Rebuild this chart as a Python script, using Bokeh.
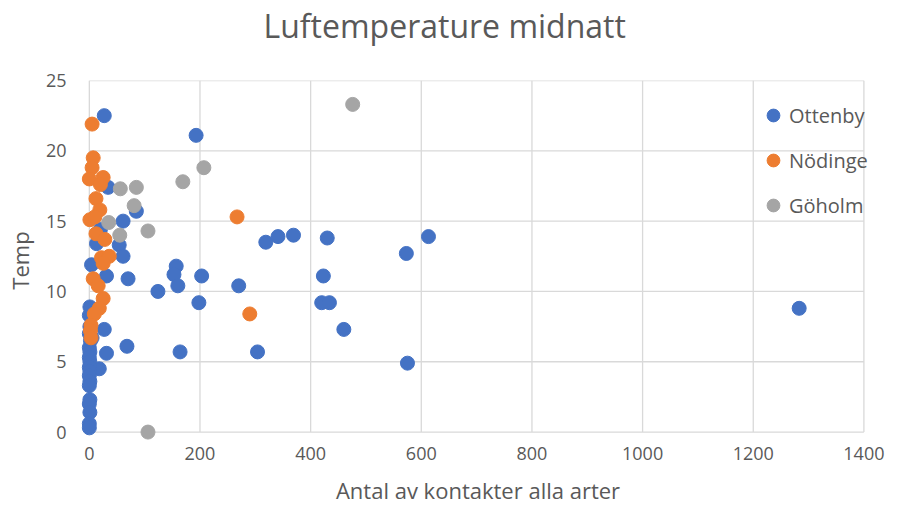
from bokeh.plotting import figure
from bokeh.models import Range1d, FixedTicker, Legend, LegendItem, Title, LinearAxis
from bokeh.embed import file_html
from bokeh.resources import INLINE

# ---- data ----
ottenby_x = [27, 193, 34, 85, 61, 54, 13, 20, 61, 4,
             31, 70, 124, 157, 153, 160, 203, 198, 270, 319,
             341, 369, 430, 423, 420, 434, 460, 573, 613, 575,
             1283, 164, 304, 68, 31, 27, 18, 5,
             1, 0, 1, 0, 2, 0, 1, 0, 1, 0, 1, 0, 1, 0, 1, 0, 1, 0, 0]
ottenby_y = [22.5, 21.1, 17.4, 15.7, 15.0, 13.3, 13.4, 14.4, 12.5, 11.9,
             11.1, 10.9, 10.0, 11.8, 11.2, 10.4, 11.1, 9.2, 10.4, 13.5,
             13.9, 14.0, 13.8, 11.1, 9.2, 9.2, 7.3, 12.7, 13.9, 4.9,
             8.8, 5.7, 5.7, 6.1, 5.6, 7.3, 4.5, 6.7,
             8.9, 8.3, 7.5, 7.0, 6.5, 6.0, 5.7, 5.3, 5.0, 4.6, 4.3, 4.0, 3.6, 3.3, 2.3, 2.0, 1.4, 0.6, 0.3]
nodinge_x = [5, 7, 5, 0, 25, 20, 12, 19, 1, 10, 12, 28, 22, 36, 25, 7, 16, 25, 18, 9, 3, 2, 3, 267, 290]
nodinge_y = [21.9, 19.5, 18.8, 18.0, 18.1, 17.6, 16.6, 15.8, 15.1, 15.3, 14.1, 13.7, 12.4, 12.5, 12.0,
             10.9, 10.4, 9.5, 8.8, 8.4, 7.6, 7.2, 6.7, 15.3, 8.4]
goholm_x = [476, 207, 169, 56, 85, 81, 35, 55, 106, 106]
goholm_y = [23.3, 18.8, 17.8, 17.3, 17.4, 16.1, 14.9, 14.0, 14.3, 0.0]

x_ticks = [0, 200, 400, 600, 800, 1000, 1200, 1400]
y_ticks = [0, 5, 10, 15, 20, 25]

series_names = ["Ottenby", "Nödinge", "Göholm"]
series_colors = ["#4472C4", "#ED7D31", "#A5A5A5"]

FONT = "Open Sans"
TXT = "#595959"
GRID = "#d9d9d9"

p = figure(width=885, height=508, output_backend="svg", toolbar_location=None,
           x_range=Range1d(-25, 1430), y_range=Range1d(-0.6, 25),
           min_border_left=75, min_border_right=5, min_border_top=80, min_border_bottom=68)
p.outline_line_color = None
p.grid.visible = False
p.background_fill_color = "white"
p.border_fill_color = "white"

xax = p.xaxis[0]
yax = p.yaxis[0]


def spacer(px):
    # an axis with one unlabelled, undrawn tick: only reserves vertical space
    return LinearAxis(ticker=FixedTicker(ticks=[x_ticks[0]]), axis_line_color=None,
                      major_tick_line_color=None, minor_tick_line_color=None,
                      major_tick_in=0, major_tick_out=px, minor_tick_out=0,
                      major_label_standoff=0, major_label_text_font_size="0px",
                      major_label_overrides={x_ticks[0]: ""})


# title
p.title.text = "Luftemperature midnatt"
p.title.align = "left"
p.title.offset = 188
p.title.text_font = FONT
p.title.text_font_size = "32px"
p.title.text_font_style = "normal"
p.title.text_color = TXT
p.title.standoff = 0

# gridlines from tick arrays
p.segment(x0=x_ticks, y0=[y_ticks[0]] * len(x_ticks), x1=x_ticks, y1=[y_ticks[-1]] * len(x_ticks),
          line_color=GRID, line_width=1.3)
p.segment(x0=[x_ticks[0]] * len(y_ticks), y0=y_ticks, x1=[x_ticks[-1]] * len(y_ticks), y1=y_ticks,
          line_color=GRID, line_width=1.3)

# points
r1 = p.scatter(ottenby_x, ottenby_y, size=14, fill_color=series_colors[0], line_color=series_colors[0])
r2 = p.scatter(nodinge_x, nodinge_y, size=14, fill_color=series_colors[1], line_color=series_colors[1])
r3 = p.scatter(goholm_x, goholm_y, size=14, fill_color=series_colors[2], line_color=series_colors[2])

# axes
for ax in (xax, yax):
    ax.axis_line_color = None
    ax.major_tick_line_color = None
    ax.minor_tick_line_color = None
    ax.major_tick_out = 0
    ax.major_tick_in = 0
    ax.minor_tick_out = 0
    ax.major_label_text_font = FONT
    ax.major_label_text_font_size = "18px"
    ax.major_label_text_color = TXT
    ax.axis_label_text_font = FONT
    ax.axis_label_text_font_size = "22px"
    ax.axis_label_text_font_style = "normal"
    ax.axis_label_text_color = TXT

xax.ticker = FixedTicker(ticks=x_ticks)
yax.ticker = FixedTicker(ticks=y_ticks)
yax.axis_label = "Temp"
xax.major_label_standoff = 6
yax.major_label_standoff = 9
yax.axis_label_standoff = 8

# spacer between frame and chart title
p.add_layout(spacer(34), "above")
# x-axis title as a title panel below the axis (with a spacer in between)
p.add_layout(spacer(10), "below")
p.add_layout(Title(text="Antal av kontakter alla arter", align="center", text_font=FONT,
                   text_font_size="22px", text_font_style="normal", text_color=TXT,
                   standoff=0), "below")

legend = Legend(items=[LegendItem(label=series_names[0], renderers=[r1]),
                       LegendItem(label=series_names[1], renderers=[r2]),
                       LegendItem(label=series_names[2], renderers=[r3])],
                location=(682, 219), orientation="vertical",
                glyph_width=32, glyph_height=32, label_height=20, spacing=13,
                label_standoff=-4, padding=0, margin=0,
                border_line_color=None, background_fill_alpha=0,
                label_text_font=FONT, label_text_font_size="20px", label_text_color=TXT)
p.add_layout(legend)

open("out.html", "w").write(file_html(p, INLINE))
